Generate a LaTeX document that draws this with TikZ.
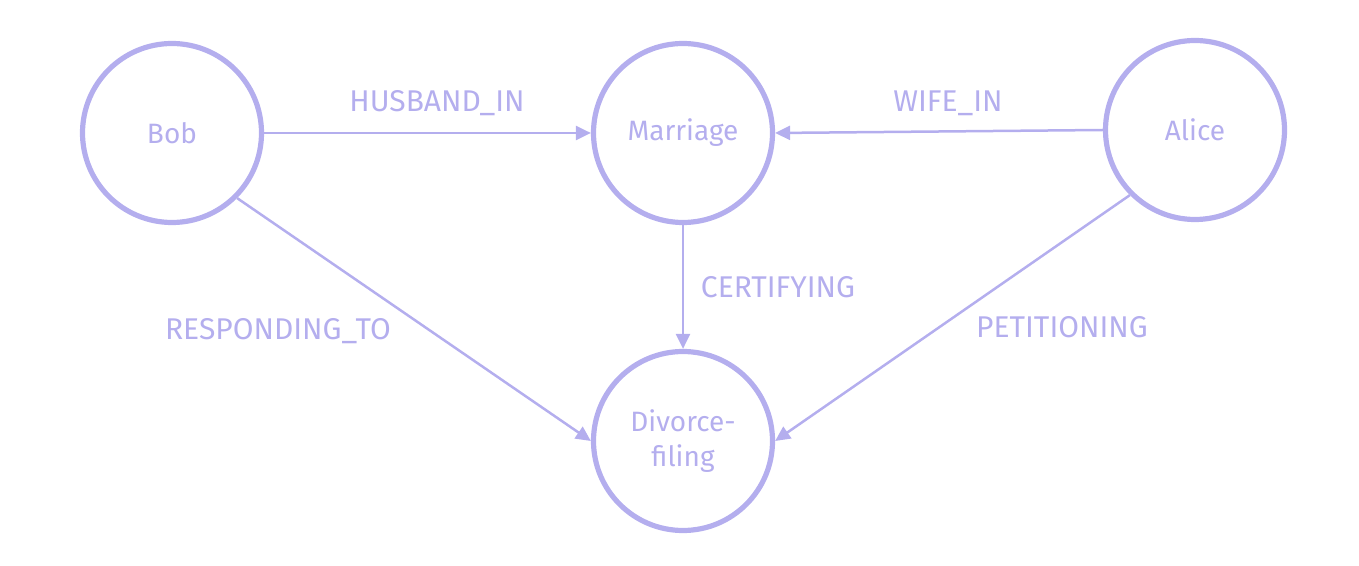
\documentclass[tikz,border=0pt]{standalone}
\usepackage{fontspec}
\setmainfont{Fira Sans}
\usetikzlibrary{arrows.meta}
\definecolor{lav}{RGB}{180,174,238}
\begin{document}
\begin{tikzpicture}[x=0.5pt,y=-0.5pt,
  ent/.style={circle,draw=lav,line width=2.6pt,minimum size=89.5pt,inner sep=0pt,
    text=lav,font=\fontsize{14}{17.5}\selectfont,align=center},
  rel/.style={draw=lav,line width=1.25pt,-{Triangle[length=7.5pt,width=7pt]}},
  lbl/.style={text=lav,font=\fontsize{15}{18}\selectfont,inner sep=0pt}]
\useasboundingbox (0,0) rectangle (1359,566);
\node[ent] (bob) at (172,133) {Bob};
\node[ent] (mar) at (683,133) {Marriage};
\node[ent] (ali) at (1195,130) {Alice};
\node[ent] (div) at (683,441) {Divorce-\\filing};
\draw[rel] (bob.east) -- (mar.west);
\draw[rel] (ali.west) -- (mar.east);
\draw[rel] (mar.south) -- (div.north);
\draw[rel] (bob.-45) -- (div.west);
\draw[rel] (ali.-135) -- (div.east);
\node[lbl] (lhus) at (437,103) {HUSBAND\_IN};
\node[lbl] (lwife) at (948,103) {WIFE\_IN};
\node[lbl] (lcert) at (778,287) {CERTIFYING};
\node[lbl] (lresp) at (278,331) {RESPONDING\_TO};
\node[lbl] (lpet) at (1062,327) {PETITIONING};
\end{tikzpicture}
\end{document}
